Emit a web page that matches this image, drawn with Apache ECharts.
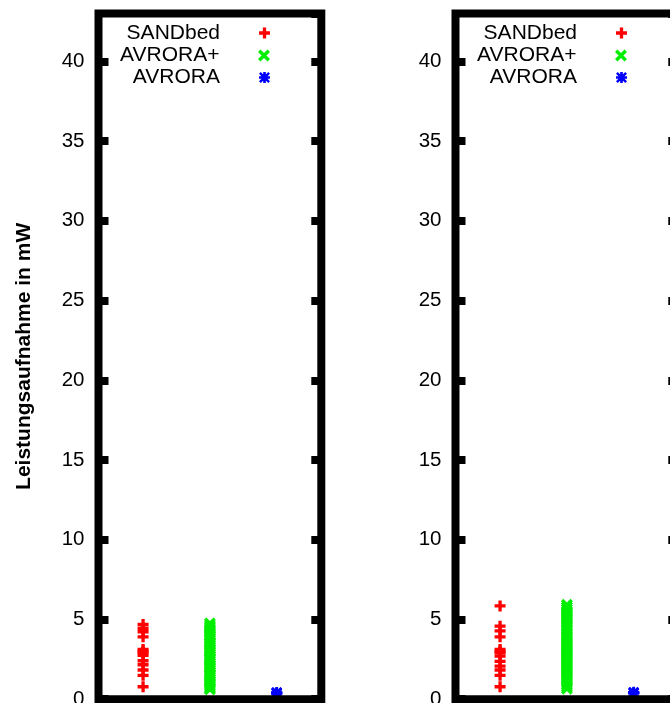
<!DOCTYPE html>
<html><head><meta charset="utf-8">
<script src="https://cdn.jsdelivr.net/npm/echarts@6/dist/echarts.min.js"></script>
<style>html,body{margin:0;padding:0;background:#fff}#c{width:670px;height:703px}</style>
</head><body><div id="c"></div>
<script>
// ---- data ----
const seriesNames = ['SANDbed', 'AVRORA+', 'AVRORA'];
const seriesX = [1, 2, 3];
const yTickValues = [0, 5, 10, 15, 20, 25, 30, 35, 40];
const yAxisTitle = 'Leistungsaufnahme in mW';

// left panel
const sandbedA = [4.69, 4.45, 4.23, 3.91, 3.12, 3.02, 2.91, 2.75, 2.41, 2.16, 1.83, 1.50, 0.78];
const avroraPlusA = [4.75, 4.62, 4.50, 4.41, 4.30, 4.18, 4.05, 3.96, 3.84, 3.73, 3.60, 3.51, 3.40, 3.28,
  3.17, 3.05, 2.96, 2.84, 2.72, 2.61, 2.50, 2.39, 2.27, 2.16, 2.04, 1.95, 1.83, 1.71, 1.60, 1.49,
  1.38, 1.26, 1.15, 1.04, 0.93, 0.82, 0.71, 0.62];
const avroraA = [0.36, 0.38, 0.40, 0.42];

// right panel
const sandbedB = [5.85, 4.58, 4.29, 3.91, 3.12, 3.00, 2.91, 2.70, 2.37, 2.08, 1.83, 1.50, 0.78];
const avroraPlusB = [5.92, 5.78, 5.65, 5.51, 5.40, 5.26, 5.13, 5.02, 4.88, 4.75, 4.62, 4.50, 4.37,
  4.24, 4.11, 3.98, 3.86, 3.73, 3.60, 3.47, 3.35, 3.22, 3.09, 2.96, 2.84, 2.71, 2.58, 2.45, 2.33,
  2.20, 2.07, 1.94, 1.82, 1.69, 1.56, 1.43, 1.30, 1.18, 1.05, 0.92, 0.79, 0.66];
const avroraB = [0.37, 0.39, 0.41, 0.43];

// ---- styles ----
const colors = ['#ff0000', '#00ee00', '#0000ff'];
const symPlus = 'path://M3.5,0H6.5V3.5H10V6.5H6.5V10H3.5V6.5H0V3.5H3.5Z';
const symCross = 'path://M0,2L2,0L5,3L8,0L10,2L7,5L10,8L8,10L5,7L2,10L0,8L3,5Z';
const symStar = 'path://M3.8,0H6.2V3.8H10V6.2H6.2V10H3.8V6.2H0V3.8H3.8Z M0,1.6L1.6,0L5,3.4L8.4,0L10,1.6L6.6,5L10,8.4L8.4,10L5,6.6L1.6,10L0,8.4L3.4,5Z';
const symbols = [symPlus, symCross, symStar];
const symSizes = [11, 12, 11];
const FONT = 'Liberation Sans, Arial, Helvetica, sans-serif';

const panels = [
  { left: 98.5, data: [sandbedA, avroraPlusA, avroraA], title: true },
  { left: 455.5, data: [sandbedB, avroraPlusB, avroraB], title: false }
];
const gridW = 222.8, gridTop = 13.5, gridH = 685.7;
const W = 670;

const grid = [], xAxis = [], yAxis = [], series = [], legend = [];
panels.forEach((p, pi) => {
  grid.push({ left: p.left, top: gridTop, width: gridW, height: gridH,
    outerBoundsMode: 'none', containLabel: false,
    show: true, borderColor: '#000', borderWidth: 8, backgroundColor: 'transparent', z: 5 });
  xAxis.push({ type: 'value', gridIndex: pi, min: 0.333, max: 3.667, show: false });
  const yCommon = {
    type: 'value', gridIndex: pi, min: 0, max: 43, interval: 5,
    splitLine: { show: false }, axisLine: { show: false },
    axisTick: { show: true, inside: true, length: 10, lineStyle: { color: '#000', width: 8 } }
  };
  yAxis.push(Object.assign({}, yCommon, {
    position: 'left',
    name: p.title ? yAxisTitle : '',
    nameLocation: 'middle', nameGap: 64,
    nameTextStyle: { fontFamily: FONT, fontWeight: 'bold', fontSize: 21, color: '#000' },
    axisLabel: { show: true, margin: 14, fontFamily: FONT, fontSize: 20.5, color: '#000',
      showMaxLabel: false,
      formatter: v => yTickValues.indexOf(v) >= 0 ? String(v) : '' }
  }));
  yAxis.push(Object.assign({}, yCommon, { position: 'right', axisLabel: { show: false } }));
  p.data.forEach((vals, si) => {
    series.push({
      type: 'scatter', name: seriesNames[si], xAxisIndex: pi, yAxisIndex: pi * 2,
      symbol: symbols[si], symbolSize: symSizes[si],
      itemStyle: { color: colors[si], opacity: 1 },
      data: vals.map(v => [seriesX[si], v]), z: 2, animation: false
    });
  });
  const rowTops = [22.5, 45, 67];
  const iconW = 79;
  const rightEdge = p.left + 121.5 + 5 + iconW - 34;
  seriesNames.forEach((n, si) => {
    legend.push({
      data: [n], orient: 'horizontal', align: 'right', padding: 0,
      right: W - rightEdge, top: rowTops[si],
      itemWidth: iconW, itemHeight: symSizes[si], itemGap: 0,
      selectedMode: false,
      textStyle: { fontFamily: FONT, fontSize: 21, color: '#000' }
    });
  });
});

const chart = echarts.init(document.getElementById('c'), null, { renderer: 'canvas' });
chart.setOption({ animation: false, backgroundColor: '#fff', grid, xAxis, yAxis, series, legend });
</script></body></html>
